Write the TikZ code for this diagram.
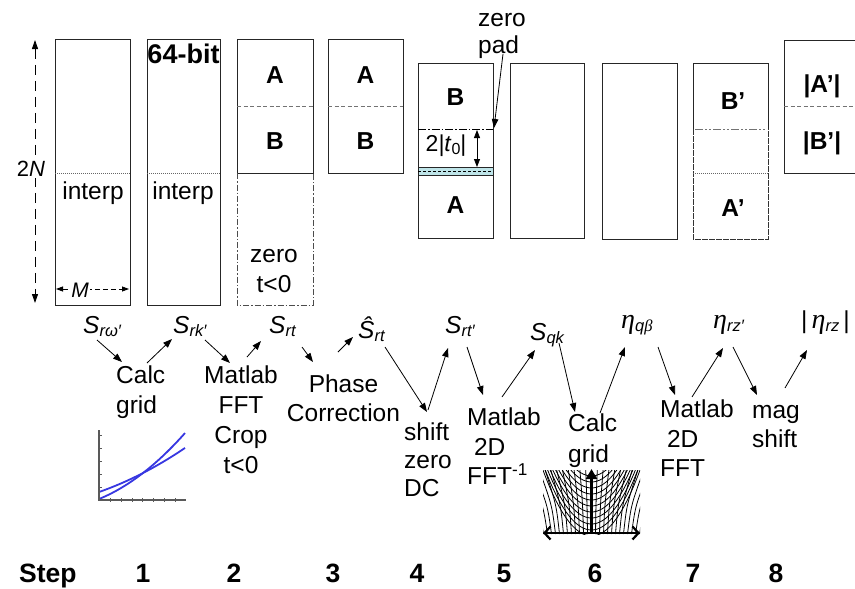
\documentclass[tikz,border=0pt]{standalone}
\usepackage{fontspec}
\setmainfont{Liberation Sans}
\newfontfamily\serifgr{Liberation Serif}
\usepackage{graphicx}
\usetikzlibrary{arrows.meta}
\definecolor{cblue}{RGB}{55,55,225}
\definecolor{cband}{RGB}{190,228,232}
\newcommand\fs[2]{\fontsize{#1}{#2}\selectfont}
\newcommand\lsb[1]{\raisebox{-3.5pt}{\fs{16.5}{16.5}\itshape #1}}
\newcommand\myeta{{\serifgr\itshape\fs{28}{30}η}}
\tikzset{
  box/.style={draw=black!85, line width=0.9pt},
  divl/.style={draw=black!55, line width=0.8pt, dash pattern=on 4pt off 2.5pt},
  dotl/.style={draw=black!60, line width=0.7pt, dash pattern=on 1pt off 1pt},
  arr/.style={draw=black, line width=0.8pt, -{Triangle[length=9pt,width=6.5pt]}},
  txt/.style={inner sep=0pt, font=\fs{24.5}{30}},
  bl/.style={inner sep=0pt, font=\bfseries\fs{24.5}{30}},
  stp/.style={inner sep=0pt, anchor=base, font=\bfseries\fs{26.5}{30}},
  gridl/.style={line width=0.8pt, black},
}
\begin{document}
\begin{tikzpicture}[x=1pt,y=-1pt]
\useasboundingbox (0,0) rectangle (855,589);

% ---- 2N arrow
\coordinate (nT) at (35,40); \coordinate (nB) at (35,303);
\draw[line width=0.9pt, dash pattern=on 10pt off 6pt, {Triangle[length=9pt,width=6pt]}-{Triangle[length=9pt,width=6pt]}] (nT) -- (nB);
\node[fill=white, inner sep=1pt, font=\fs{22}{24}] (twoN) at (31,169) {2\textit{N}};

% ---- box 1
\draw[box] (55,39) rectangle (130,305);
\draw[dotl] (55,173) -- (130,173);
\node[txt, anchor=base] (ip1) at (93,199) {interp};
\coordinate (mL) at (56,289); \coordinate (mR) at (129,289);
\draw[line width=0.8pt, dash pattern=on 5pt off 3pt, {Triangle[length=7pt,width=5pt]}-{Triangle[length=7pt,width=5pt]}] (mL) -- (mR);
\node[fill=white, inner sep=1pt, anchor=base, font=\fs{21}{24}\itshape] (Mlab) at (80,297) {M};

% ---- box 2
\draw[box] (147,39) rectangle (220,305);
\draw[dotl] (147,173) -- (220,173);
\node[txt, anchor=base] (ip2) at (183,199) {interp};
\node[inner sep=0pt, anchor=base, font=\bfseries\fs{27}{30}] (b64) at (183.5,63) {64-bit};

% ---- box 3
\draw[box] (237,39) rectangle (313,173);
\draw[divl] (237,106) -- (313,106);
\draw[draw=black!70, line width=0.8pt, dash pattern=on 6pt off 2pt on 1.5pt off 2pt] (237,173) -- (237,305) -- (313,305) -- (313,173);
\node[bl, anchor=base] (A3) at (275,83) {A};
\node[bl, anchor=base] (B3) at (275,149) {B};
\node[txt, anchor=north, align=center] (z3) at (274,249) {zero\\t<0};

% ---- box 4
\draw[box] (328,39) rectangle (403,173);
\draw[divl] (328,106) -- (403,106);
\node[bl, anchor=base] (A4) at (365.5,83) {A};
\node[bl, anchor=base] (B4) at (365.5,149) {B};

% ---- box 5
\fill[cband] (418,167) rectangle (493,175);
\draw[box] (418,63) rectangle (493,238);
\draw[box] (418,167) -- (493,167);
\draw[box] (418,175) -- (493,175);
\draw[black, line width=0.7pt, dash pattern=on 3pt off 2pt] (418,171.5) -- (493,171.5);
\draw[black, line width=0.8pt, dash pattern=on 8pt off 2pt on 1.5pt off 2pt] (418,129) -- (493,129);
\node[bl, anchor=base] (B5) at (455.5,105) {B};
\node[bl, anchor=base] (A5) at (455.5,213) {A};
\coordinate (tT) at (477,130); \coordinate (tB) at (477,167);
\draw[line width=0.8pt, {Triangle[length=8pt,width=6pt]}-{Triangle[length=8pt,width=6pt]}] (tT) -- (tB);
\node[txt, anchor=base, font=\fs{23}{26}] (t0) at (446,151) {2\textit{|t}\raisebox{-3pt}{\fs{16}{16}0}|};
\node[txt, anchor=north west, align=left, font=\fs{24.5}{27}] (zpad) at (478,13) {zero\\pad};
\coordinate (zpS) at (503,54); \coordinate (zpE) at (494,128);
\draw[arr] (zpS) -- (zpE);

% ---- boxes 6, 7
\draw[box] (510,63) rectangle (584,238);
\draw[box] (602,63) rectangle (677,239);

% ---- box 8
\draw[box] (693,129) -- (693,63) -- (768,63) -- (768,129);
\draw[draw=black!80, line width=0.9pt, dash pattern=on 6pt off 1pt] (693,129) -- (693,239) -- (768,239) -- (768,129);
\draw[draw=black!55, line width=0.9pt, dash pattern=on 8pt off 2pt on 2pt off 2pt on 2pt off 2pt] (695,129) -- (766,129);
\draw[dotl] (693,173) -- (768,173);
\node[bl, anchor=base] (B8) at (733,109) {B’};
\node[bl, anchor=base] (A8) at (733,216) {A’};

% ---- box 9
\draw[box] (870,40) -- (784,40) -- (784,173) -- (870,173);
\draw[divl] (784,106) -- (860,106);
\node[bl, anchor=base] (A9) at (822,92) {|A’|};
\node[bl, anchor=base] (B9) at (822,149) {|B’|};

% ---- variable labels
\node[txt, anchor=base west] (Srw) at (83,333) {\textit{S}\lsb{rω′}};
\node[txt, anchor=base west] (Srk) at (173,333) {\textit{S}\lsb{rk′}};
\node[txt, anchor=base west] (Srt) at (269,333) {\textit{S}\lsb{rt}};
\node[txt, anchor=base west] (Shat) at (358,338) {\textit{Ŝ}\lsb{rt}};
\node[txt, anchor=base west] (Srtp) at (445,333) {\textit{S}\lsb{rt′}};
\node[txt, anchor=base west] (Sqk) at (530,340) {\textit{S}\lsb{qk}};
\node[txt, anchor=base west] (Eqb) at (621,328) {\myeta\lsb{q{\serifgr β}}};
\node[txt, anchor=base west] (Erz) at (713,328) {\myeta\lsb{rz′}};
\node[txt, anchor=base west] (Eabs) at (801,328) {|\,\myeta\lsb{rz}\,|};

% ---- process labels
\node[txt, anchor=north west, align=left] (p1) at (116,366) {Calc\\grid};
\node[txt, anchor=north, align=center] (p2) at (241,366) {Matlab\\FFT\\Crop\\t<0};
\node[txt, anchor=north, align=center, font=\fs{24.5}{29}] (p3) at (343.5,375) {Phase\\Correction};
\node[txt, anchor=north west, align=left, font=\fs{24.5}{28}] (p4) at (404,423) {shift\\zero\\DC};
\node[txt, anchor=north west, align=left, font=\fs{24.5}{29.5}] (p5) at (467,408) {Matlab\\\ 2D\\FFT\textsuperscript{-1}};
\node[txt, anchor=north west, align=left, font=\fs{24.5}{31}] (p6) at (568,414) {Calc\\grid};
\node[txt, anchor=north west, align=left, font=\fs{24.5}{29.5}] (p7) at (660,400) {Matlab\\\ 2D\\FFT};
\node[txt, anchor=north west, align=left, font=\fs{24.5}{29}] (p8) at (752,405) {mag\\shift};

% ---- connectors
\coordinate (c1s) at (97,340);  \coordinate (c1e) at (122,362);
\coordinate (c2s) at (147,363); \coordinate (c2e) at (172,339);
\coordinate (c3s) at (205,340); \coordinate (c3e) at (230,363);
\coordinate (c4s) at (247,357); \coordinate (c4e) at (261,341);
\coordinate (c5s) at (302,347); \coordinate (c5e) at (313,362);
\coordinate (c6s) at (338,352); \coordinate (c6e) at (353,337);
\coordinate (c7s) at (385,347); \coordinate (c7e) at (427,412);
\coordinate (c8s) at (428,410); \coordinate (c8e) at (448,348);
\coordinate (c9s) at (467,347); \coordinate (c9e) at (483,395);
\coordinate (c10s) at (502,397); \coordinate (c10e) at (535,350);
\coordinate (c11s) at (559,343); \coordinate (c11e) at (575,412);
\coordinate (c12s) at (600,413); \coordinate (c12e) at (625,347);
\coordinate (c13s) at (658,347); \coordinate (c13e) at (675,395);
\coordinate (c14s) at (692,397); \coordinate (c14e) at (723,348);
\coordinate (c15s) at (733,347); \coordinate (c15e) at (757,395);
\coordinate (c16s) at (785,388); \coordinate (c16e) at (807,350);
\foreach \i in {1,...,16} \draw[arr] (c\i s) -- (c\i e);

% ---- small plot
\draw[cblue, line width=1.8pt] plot[domain=0:86, samples=40] ({99+\x}, {499-0.406*\x-0.0042*\x*\x});
\draw[cblue, line width=1.8pt] plot[domain=0:86, samples=40] ({99+\x}, {492-0.348*\x-0.0019*\x*\x});
\draw[black!65, line width=1.6pt] (99,430) -- (99,500) -- (186,500);
\foreach \yy in {435,448,461,474,487} \draw[black!65, line width=1pt] (99,\yy) -- (102,\yy);
\foreach \xx in {110,121,132,142,153,164,175} \draw[black!65, line width=1pt] (\xx,498) -- (\xx,502);

% ---- grid picture
\begin{scope}
\clip (543,470) rectangle (640,534);
\foreach \a in {-48,-44,...,48}
  \draw[gridl] ({591.5+\a},534) .. controls ({591.5+1.1*\a},505) .. ({591.5+1.45*\a},470);
\foreach \yz in {476,482,...,536}
  \draw[gridl] plot[domain=-49:49, samples=30] ({591.5+\x},{\yz-0.028*\x*\x});
\end{scope}
\coordinate (gB) at (591.5,533); \coordinate (gT) at (591.5,469);
\draw[line width=2.4pt, -{Triangle[length=10pt,width=11pt]}] (gB) -- (gT);
\coordinate (gL) at (543,533); \coordinate (gR) at (640,533);
\draw[line width=2.2pt, {Straight Barb[length=6pt,width=13pt]}-{Straight Barb[length=6pt,width=13pt]}] (gL) -- (gR);

% ---- step row
\node[stp, anchor=base west] (step) at (19,582) {Step};
\node[stp] (s1) at (143,582) {1};
\node[stp] (s2) at (234,582) {2};
\node[stp] (s3) at (333,582) {3};
\node[stp] (s4) at (417,582) {4};
\node[stp] (s5) at (504,582) {5};
\node[stp] (s6) at (595,582) {6};
\node[stp] (s7) at (693,582) {7};
\node[stp] (s8) at (776,582) {8};
\end{tikzpicture}
\end{document}
